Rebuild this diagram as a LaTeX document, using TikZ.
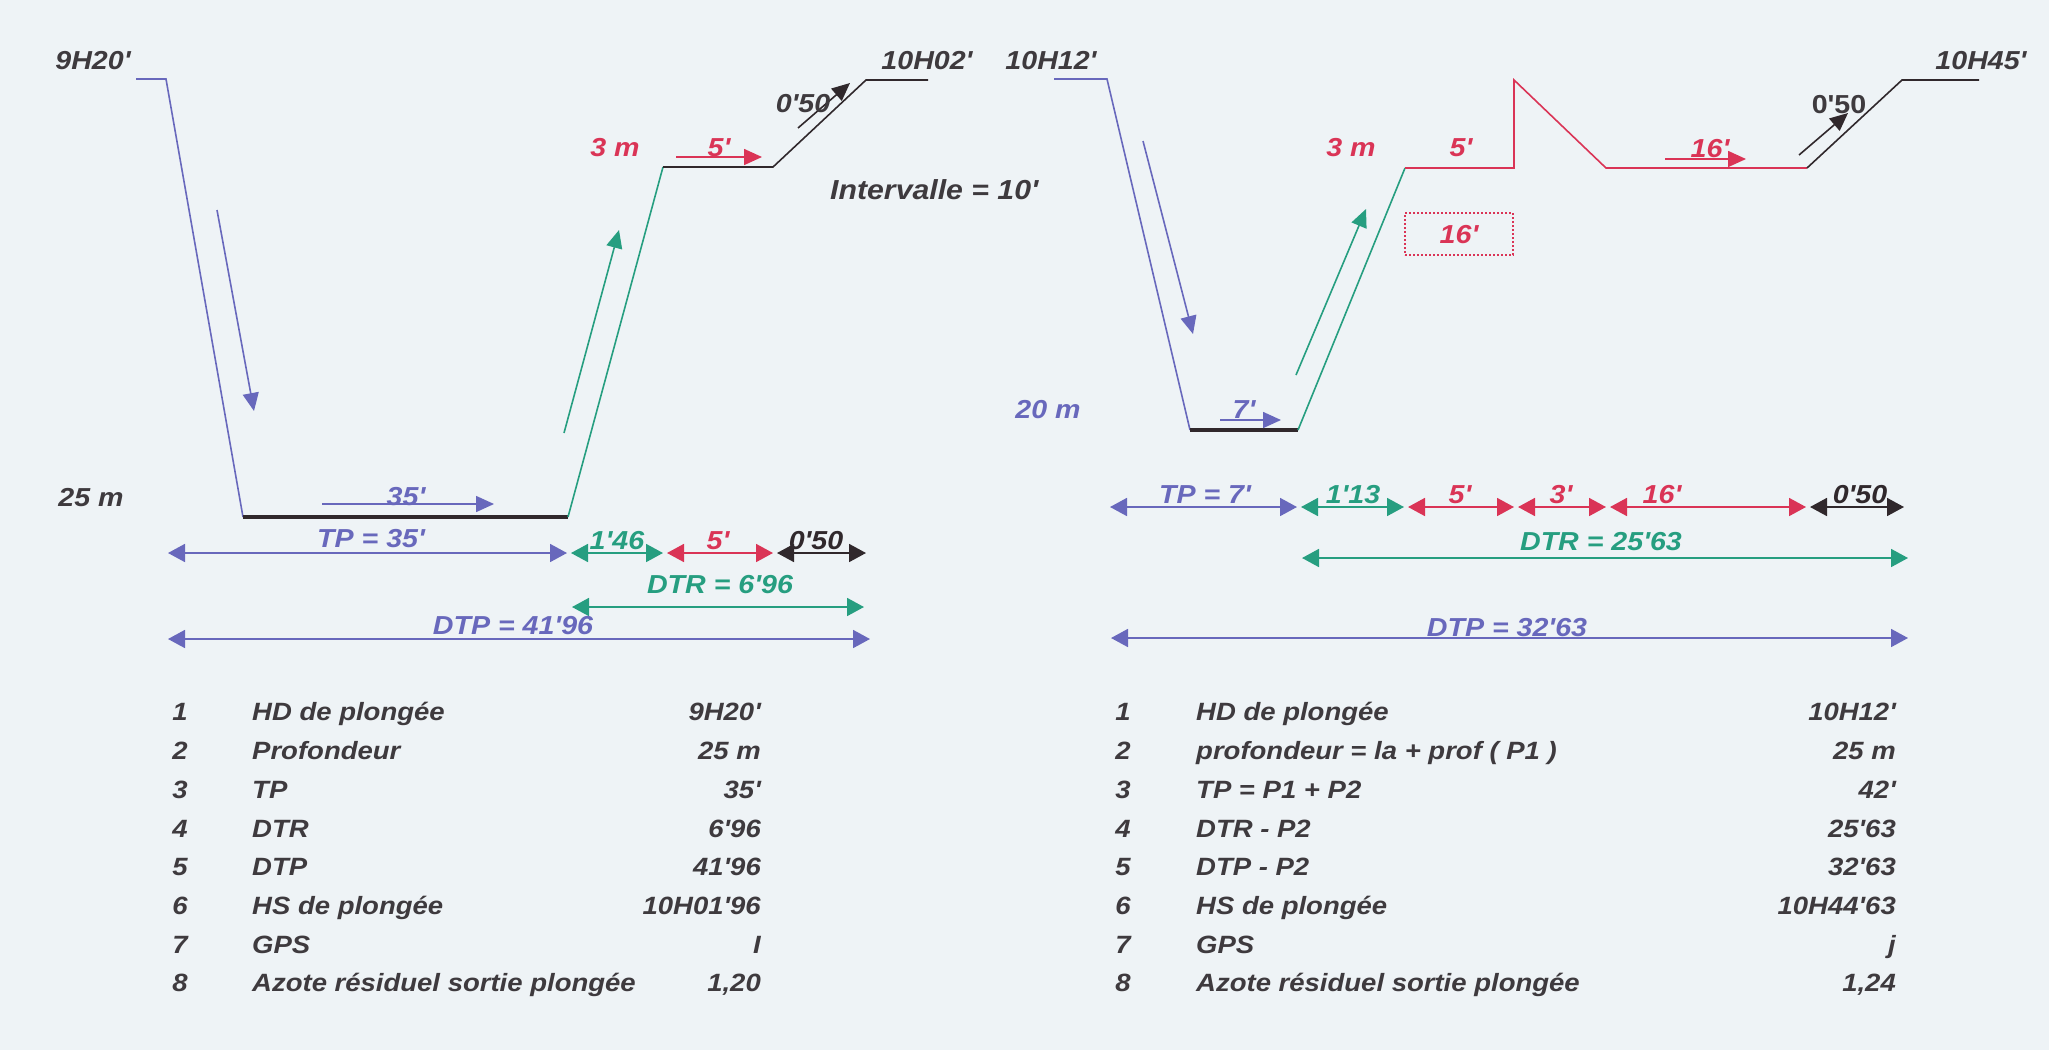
\documentclass[tikz,border=0pt]{standalone}
\usepackage{fontspec}
\usetikzlibrary{arrows.meta}
\newfontfamily\plongeefont{Liberation Sans}[FakeStretch=1.1,Ligatures=TeXOff]
\definecolor{papier}{RGB}{238,243,246}
\definecolor{bleu}{RGB}{104,104,188}
\definecolor{vert}{RGB}{38,158,128}
\definecolor{rouge}{RGB}{218,52,86}
\definecolor{noir}{RGB}{48,40,44}
\definecolor{gris}{RGB}{62,58,62}

\begin{document}
\begin{tikzpicture}[x=1pt, y=-1pt,
	every node/.style={inner sep=0pt, text height=18.5pt, text depth=0pt, text=gris, font=\plongeefont\bfseries\itshape\fontsize{26}{26}\selectfont},
	ligne/.style={line width=1.6pt},
	fondligne/.style={line width=3.5pt, noir},
	cote/.style={line width=1.8pt, shorten <=2pt, shorten >=2pt, {Triangle[length=17pt,width=18pt]}-{Triangle[length=17pt,width=18pt]}},
	sens/.style={line width=1.6pt, -{Triangle[length=18pt,width=16pt]}},
	tab/.style={text height=17.8pt, font=\plongeefont\bfseries\itshape\fontsize{25}{25}\selectfont}]
	\fill[papier] (0,0) rectangle (2049,1050);
	\useasboundingbox (0,0) rectangle (2049,1050);
	
	% plongee 1
	\coordinate (d1) at (136,79);
	\coordinate (d2) at (166,79);
	\coordinate (f1) at (243,517);
	\coordinate (f2) at (568,517);
	\coordinate (p1) at (663,167);
	\coordinate (p2) at (773,167);
	\coordinate (s1) at (866,80);
	\coordinate (s2) at (928,80);
	\draw[ligne, bleu] (d1) -- (d2) -- (f1);
	\draw[fondligne] (f1) -- (f2);
	\draw[ligne, vert] (f2) -- (p1);
	\draw[ligne, noir] (p1) -- (p2) -- (s1) -- (s2);
	
	\node (hd1) at (93,60) {9H20'};
	\node (hs1) at (927,60) {10H02'};
	\node (prof1) at (91,497) {25 m};
	\node[text=rouge] (pal1) at (615,147) {3 m};
	\node[anchor=west, font=\plongeefont\bfseries\itshape\fontsize{27.5}{27.5}\selectfont] (inter) at (830,190) {Intervalle = 10'};
	
	\coordinate (a1) at (217,210); \coordinate (a2) at (254,411);
	\coordinate (a3) at (322,504); \coordinate (a4) at (494,504);
	\coordinate (a5) at (564,433); \coordinate (a6) at (619,230);
	\coordinate (a7) at (676,157); \coordinate (a8) at (762,157);
	\coordinate (a9) at (798,128); \coordinate (a10) at (850,83);
	\foreach \from/\to/\col in {a1/a2/bleu,a3/a4/bleu,a5/a6/vert,a7/a8/rouge,a9/a10/noir}
	\draw[sens, \col] (\from) -- (\to);
	\node[text=bleu] (t35) at (406,496) {35'};
	\node[text=rouge] (t5) at (719,147) {5'};
	\node (t050) at (803,103) {0'50};
	
	% cotes plongee 1
	\coordinate (c1) at (166,553);
	\coordinate (c2) at (569,553);
	\coordinate (c3) at (665,553);
	\coordinate (c4) at (775,553);
	\coordinate (c5) at (868,553);
	\foreach \from/\to/\col in {c1/c2/bleu,c2/c3/vert,c3/c4/rouge,c4/c5/noir}
	\draw[cote, \col] (\from) -- (\to);
	\node[text=bleu] (tp1) at (371,538) {TP = 35'};
	\node[text=vert] (r1) at (617,540) {1'46};
	\node[text=rouge] (r2) at (718,540) {5'};
	\node[text=noir] (r3) at (816,540) {0'50};
	\coordinate (dtr1a) at (570,607); \coordinate (dtr1b) at (866,607);
	\coordinate (dtp1a) at (166,639); \coordinate (dtp1b) at (872,639);
	\draw[cote, vert] (dtr1a) -- (dtr1b);
	\draw[cote, bleu] (dtp1a) -- (dtp1b);
	\node[text=vert] (tdtr1) at (720,584) {DTR = 6'96};
	\node[text=bleu] (tdtp1) at (513,625) {DTP = 41'96};
	
	% plongee 2
	\coordinate (d3) at (1054,79);
	\coordinate (d4) at (1107,79);
	\coordinate (f3) at (1190,430);
	\coordinate (f4) at (1298,430);
	\coordinate (p3) at (1405,168);
	\coordinate (p4) at (1514,168);
	\coordinate (pic) at (1514,80);
	\coordinate (p5) at (1606,168);
	\coordinate (p6) at (1807,168);
	\coordinate (s3) at (1902,80);
	\coordinate (s4) at (1979,80);
	\draw[ligne, bleu] (d3) -- (d4) -- (f3);
	\draw[fondligne] (f3) -- (f4);
	\draw[ligne, vert] (f4) -- (p3);
	\draw[ligne, rouge] (p3) -- (p4) -- (pic) -- (p5) -- (p6);
	\draw[ligne, noir] (p6) -- (s3) -- (s4);
	
	\node (hd2) at (1051,60) {10H12'};
	\node (hs2) at (1981,60) {10H45'};
	\node[text=bleu] (prof2) at (1048,409) {20 m};
	\node[text=rouge] (pal2) at (1351,147) {3 m};
	\node[text=rouge] (t5b) at (1461,147) {5'};
	\node[draw=rouge, dash pattern=on 2pt off 2pt, line width=2pt, minimum width=108pt, minimum height=42pt, text=rouge] (boite) at (1459,234) {16'};
	
	\coordinate (b1) at (1143,141); \coordinate (b2) at (1193,334);
	\coordinate (b3) at (1220,420); \coordinate (b4) at (1281,420);
	\coordinate (b5) at (1296,375); \coordinate (b6) at (1366,209);
	\coordinate (b7) at (1665,159); \coordinate (b8) at (1746,159);
	\coordinate (b9) at (1799,155); \coordinate (b10) at (1848,113);
	\foreach \from/\to/\col in {b1/b2/bleu,b3/b4/bleu,b5/b6/vert,b7/b8/rouge,b9/b10/noir}
	\draw[sens, \col] (\from) -- (\to);
	\node[text=bleu] (t7) at (1244,409) {7'};
	\node[text=rouge] (t16) at (1710,148) {16'};
	\node[font=\plongeefont\bfseries\fontsize{26}{26}\selectfont] (t050b) at (1839,104) {0'50};
	
	% cotes plongee 2
	\coordinate (e1) at (1108,507);
	\coordinate (e2) at (1299,507);
	\coordinate (e3) at (1406,507);
	\coordinate (e4) at (1516,507);
	\coordinate (e5) at (1608,507);
	\coordinate (e6) at (1808,507);
	\coordinate (e7) at (1906,507);
	\foreach \from/\to/\col in {e1/e2/bleu,e2/e3/vert,e3/e4/rouge,e4/e5/rouge,e5/e6/rouge,e6/e7/noir}
	\draw[cote, \col] (\from) -- (\to);
	\node[text=bleu] (tp2) at (1205,494) {TP = 7'};
	\node[text=vert] (q1) at (1353,494) {1'13};
	\node[text=rouge] (q2) at (1460,494) {5'};
	\node[text=rouge] (q3) at (1561,494) {3'};
	\node[text=rouge] (q4) at (1662,494) {16'};
	\node[text=noir] (q5) at (1860,494) {0'50};
	\coordinate (dtr2a) at (1300,558); \coordinate (dtr2b) at (1910,558);
	\coordinate (dtp2a) at (1109,638); \coordinate (dtp2b) at (1910,638);
	\draw[cote, vert] (dtr2a) -- (dtr2b);
	\draw[cote, bleu] (dtp2a) -- (dtp2b);
	\node[text=vert] (tdtr2) at (1601,541) {DTR = 25'63};
	\node[text=bleu] (tdtp2) at (1507,627) {DTP = 32'63};
	
	% tableaux
	\foreach \n/\lab/\val in {1/HD de plongée/9H20',2/Profondeur/25 m,3/TP/35',4/DTR/6'96,5/DTP/41'96,6/HS de plongée/10H01'96,7/GPS/I,8/Azote résiduel sortie plongée/{1,20}}
	{
		\node[tab] (gn\n) at (180,{712+(\n-1)*38.7}) {\n};
		\node[tab, anchor=west] (gl\n) at (252,{712+(\n-1)*38.7}) {\lab};
		\node[tab, anchor=east] (gv\n) at (761,{712+(\n-1)*38.7}) {\val};
	}
	\foreach \n/\lab/\val in {1/HD de plongée/10H12',2/profondeur = la + prof ( P1 )/25 m,3/TP = P1 + P2/42',4/DTR - P2/25'63,5/DTP - P2/32'63,6/HS de plongée/10H44'63,7/GPS/j,8/Azote résiduel sortie plongée/{1,24}}
	{
		\node[tab] (dn\n) at (1123,{712+(\n-1)*38.7}) {\n};
		\node[tab, anchor=west] (dl\n) at (1196,{712+(\n-1)*38.7}) {\lab};
		\node[tab, anchor=east] (dv\n) at (1896,{712+(\n-1)*38.7}) {\val};
	}
\end{tikzpicture}
\end{document}
